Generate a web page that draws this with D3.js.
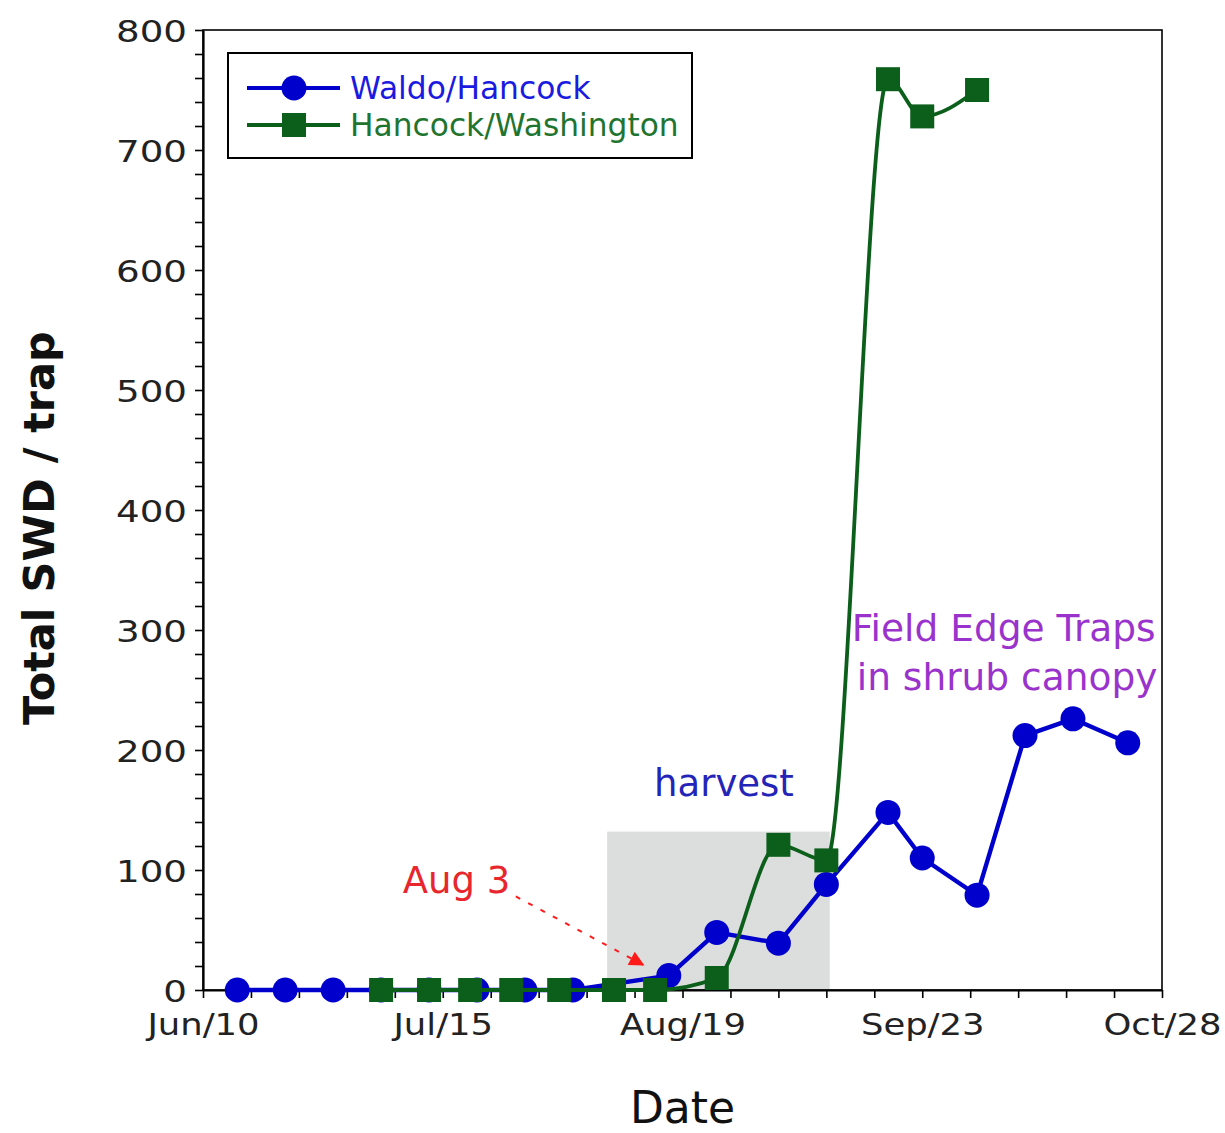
<!DOCTYPE html>
<html>
<head>
<meta charset="utf-8">
<script src="https://cdn.jsdelivr.net/npm/d3@7"></script>
<style>
  body { margin: 0; background: #fff; }
  svg { display: block; font-family: "DejaVu Sans", Verdana, sans-serif; }
</style>
</head>
<body>
<svg id="chart" width="1225" height="1133"></svg>
<script>
// Waldo/Hancock trap counts
const blueDates = ["2012-06-15", "2012-06-22", "2012-06-29", "2012-07-06", "2012-07-13",
    "2012-07-20", "2012-07-27", "2012-08-03", "2012-08-17", "2012-08-24", "2012-09-02",
    "2012-09-09", "2012-09-18", "2012-09-23", "2012-10-01", "2012-10-08", "2012-10-15",
    "2012-10-23"];
const blueValues = [0, 0, 0, 0, 0, 0, 0, 0, 12, 48, 39, 88, 148, 110, 79, 212, 226, 206];

// Hancock/Washington trap counts
const greenDates = ["2012-07-06", "2012-07-13", "2012-07-19", "2012-07-25", "2012-08-01",
    "2012-08-09", "2012-08-15", "2012-08-24", "2012-09-02", "2012-09-09", "2012-09-18",
    "2012-09-23", "2012-10-01"];
const greenValues = [0, 0, 0, 0, 0, 0, 0, 10, 121, 108, 759, 728, 750];

const seriesNames = ["Waldo/Hancock", "Hancock/Washington"];

const xTickDates = ["2012-06-10", "2012-07-15", "2012-08-19", "2012-09-23", "2012-10-28"];
const xTickLabels = ["Jun/10", "Jul/15", "Aug/19", "Sep/23", "Oct/28"];
const yTickValues = [0, 100, 200, 300, 400, 500, 600, 700, 800];

// harvest window (gray box): start, end, top value
const harvestDates = ["2012-08-08T00:00", "2012-09-09T12:00"];
const harvestTop = 132;

// arrow for Aug 3 note: from [date, value] to [date, value]
const arrowFrom = ["2012-07-25T16:00", 78];
const arrowTo = ["2012-08-13T06:00", 21];

const parseDay = d3.timeParse("%Y-%m-%d");
const parseHour = d3.timeParse("%Y-%m-%dT%H:%M");

const margin = {top: 30, right: 63, bottom: 143, left: 203};
const width = 1225 - margin.left - margin.right;
const height = 1133 - margin.top - margin.bottom;

const svg = d3.select("#chart");
const g = svg.append("g").attr("transform", `translate(${margin.left},${margin.top})`);

const x = d3.scaleTime()
    .domain([parseDay(xTickDates[0]), parseDay(xTickDates[xTickDates.length - 1])])
    .range([0, width]);

const y = d3.scaleLinear()
    .domain([0, 800])
    .range([height, 0]);

const blueColor = "#0000cc";
const greenColor = "#0b5f1b";

// Harvest box
g.append("rect")
    .attr("x", x(parseHour(harvestDates[0])))
    .attr("y", y(harvestTop))
    .attr("width", x(parseHour(harvestDates[1])) - x(parseHour(harvestDates[0])))
    .attr("height", y(0) - y(harvestTop))
    .attr("fill", "#dcdddd");

// Frame (top and right)
g.append("rect")
    .attr("width", width)
    .attr("height", height)
    .attr("fill", "none")
    .attr("stroke", "#000")
    .attr("stroke-width", 1.6);

// Y axis
const yAxis = d3.axisLeft(y)
    .tickValues(d3.range(0, 801, 20))
    .tickSize(8)
    .tickSizeOuter(0)
    .tickPadding(8)
    .tickFormat(d => yTickValues.includes(d) ? d : "");

const yG = g.append("g").call(yAxis);
yG.select(".domain").attr("stroke-width", 2.2);
yG.selectAll(".tick line").attr("stroke-width", 1.6);
yG.selectAll(".tick text")
    .attr("font-size", 31)
    .attr("fill", "#222")
    .attr("font-family", "DejaVu Sans")
    .attr("dy", "0.36em")
    .attr("transform", "scale(1.2,1)")
    .attr("x", -16 / 1.2);

// X axis
const xAxis = d3.axisBottom(x)
    .tickValues(d3.timeWeek.range(x.domain()[0], d3.timeDay.offset(x.domain()[1], 1)))
    .tickSize(8)
    .tickSizeOuter(0)
    .tickPadding(16)
    .tickFormat(d => {
        const i = xTickDates.indexOf(d3.timeFormat("%Y-%m-%d")(d));
        return i >= 0 ? xTickLabels[i] : "";
    });

const xG = g.append("g").attr("transform", `translate(0,${height})`).call(xAxis);
xG.select(".domain").attr("stroke-width", 2.2);
xG.selectAll(".tick line").attr("stroke-width", 1.6);
xG.selectAll(".tick text")
    .attr("font-size", 30)
    .attr("fill", "#222")
    .attr("font-family", "DejaVu Sans")
    .attr("transform", "scale(1.18,1)");

// Axis titles
svg.append("text")
    .attr("transform", `translate(54,${margin.top + height / 2 + 18}) rotate(-90)`)
    .attr("text-anchor", "middle")
    .attr("font-size", 43)
    .attr("font-weight", "bold")
    .attr("fill", "#111")
    .text("Total SWD / trap");

svg.append("text")
    .attr("x", margin.left + width / 2)
    .attr("y", 1123)
    .attr("text-anchor", "middle")
    .attr("font-size", 44)
    .attr("fill", "#111")
    .text("Date");

// Series
const blueData = blueDates.map((d, i) => ({date: parseDay(d), value: blueValues[i]}));
const greenData = greenDates.map((d, i) => ({date: parseDay(d), value: greenValues[i]}));

const line = d3.line()
    .x(d => x(d.date))
    .y(d => y(d.value));

g.append("path")
    .datum(blueData)
    .attr("fill", "none")
    .attr("stroke", blueColor)
    .attr("stroke-width", 4.4)
    .attr("stroke-linejoin", "round")
    .attr("d", line);

g.selectAll(".blue-pt")
    .data(blueData)
    .enter()
    .append("circle")
    .attr("class", "blue-pt")
    .attr("cx", d => x(d.date))
    .attr("cy", d => y(d.value))
    .attr("r", 12.5)
    .attr("fill", blueColor);

g.append("path")
    .datum(greenData)
    .attr("fill", "none")
    .attr("stroke", greenColor)
    .attr("stroke-width", 3.8)
    .attr("stroke-linejoin", "round")
    .attr("d", line.curve(d3.curveMonotoneX));

g.selectAll(".green-pt")
    .data(greenData)
    .enter()
    .append("rect")
    .attr("class", "green-pt")
    .attr("x", d => x(d.date) - 12)
    .attr("y", d => y(d.value) - 12)
    .attr("width", 24)
    .attr("height", 24)
    .attr("fill", greenColor);

// Annotations
g.append("text")
    .attr("x", x(parseDay("2012-08-15")) - 1)
    .attr("y", y(162))
    .attr("font-size", 37)
    .attr("fill", "#2424b8")
    .text("harvest");

g.append("text")
    .attr("x", x(parseDay("2012-07-09")) + 1)
    .attr("y", y(81))
    .attr("font-size", 37)
    .attr("fill", "#e8262d")
    .text("Aug 3");

const purple = "#9933cc";
g.append("text")
    .attr("x", x(parseDay("2012-09-13")) - 2)
    .attr("y", y(291))
    .attr("font-size", 37.5)
    .attr("fill", purple)
    .text("Field Edge Traps");

g.append("text")
    .attr("x", x(parseDay("2012-09-13")) + 3)
    .attr("y", y(250))
    .attr("font-size", 37.5)
    .attr("fill", purple)
    .text("in shrub canopy");

// dashed arrow
svg.append("defs").append("marker")
    .attr("id", "arrowhead")
    .attr("viewBox", "0 0 10 10")
    .attr("refX", 9)
    .attr("refY", 5)
    .attr("markerWidth", 22)
    .attr("markerHeight", 15)
    .attr("markerUnits", "userSpaceOnUse")
    .attr("orient", "auto")
    .append("path")
    .attr("d", "M0,0 L10,5 L0,10 Z")
    .attr("fill", "#ff1a1a");

g.append("line")
    .attr("x1", x(parseHour(arrowFrom[0])))
    .attr("y1", y(arrowFrom[1]))
    .attr("x2", x(parseHour(arrowTo[0])))
    .attr("y2", y(arrowTo[1]))
    .attr("stroke", "#ff1a1a")
    .attr("stroke-width", 2)
    .attr("stroke-dasharray", "5 9")
    .attr("marker-end", "url(#arrowhead)");

// Legend
const legend = svg.append("g").attr("transform", "translate(228,53)");
legend.append("rect")
    .attr("width", 464)
    .attr("height", 105)
    .attr("fill", "#fff")
    .attr("stroke", "#000")
    .attr("stroke-width", 2);

const legendItems = [
    {name: seriesNames[0], color: blueColor, shape: "circle", y: 35},
    {name: seriesNames[1], color: greenColor, shape: "square", y: 72}
];

legendItems.forEach(it => {
    legend.append("line")
        .attr("x1", 19).attr("x2", 112)
        .attr("y1", it.y).attr("y2", it.y)
        .attr("stroke", it.color)
        .attr("stroke-width", 4);
    if (it.shape === "circle") {
        legend.append("circle")
            .attr("cx", 66).attr("cy", it.y).attr("r", 12.5)
            .attr("fill", it.color);
    } else {
        legend.append("rect")
            .attr("x", 54).attr("y", it.y - 12)
            .attr("width", 24).attr("height", 24)
            .attr("fill", it.color);
    }
    legend.append("text")
        .attr("x", 122)
        .attr("y", it.y + 11)
        .attr("font-size", 31.3)
        .attr("fill", it.color === blueColor ? "#1a1ae0" : "#1f7530")
        .text(it.name);
});
</script>
</body>
</html>
